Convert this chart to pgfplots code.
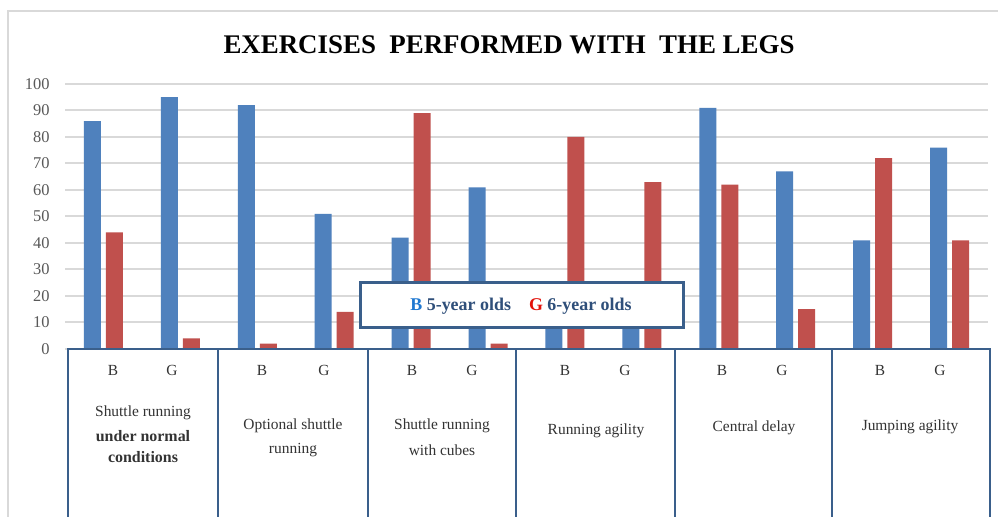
\documentclass[border=0pt]{standalone}
\usepackage{fontspec}
\setmainfont{Liberation Serif}
\usepackage{pgfplots}
\pgfplotsset{compat=1.18}
\definecolor{xblue}{HTML}{4F81BD}
\definecolor{xred}{HTML}{C0504D}
\definecolor{boxc}{HTML}{3A5F8B}
\definecolor{gridc}{HTML}{D9D9D9}
\definecolor{tickc}{HTML}{595959}
\definecolor{legtxt}{HTML}{2F4F7A}
\definecolor{legB}{HTML}{1F78D1}
\definecolor{legG}{HTML}{E3120B}
\definecolor{cattxt}{HTML}{333333}
\begin{document}
\begin{tikzpicture}[x=1bp,y=1bp]
\path[use as bounding box] (0,0) rectangle (998,517);
\fill[white] (0,0) rectangle (998,517);
\draw[gridc, line width=1.2bp] (8,-5) -- (8,506) -- (1005,506);
\begin{axis}[at={(65bp,168bp)}, anchor=south west, scale only axis,
  width=923bp, height=265bp, xmin=-0.5, xmax=11.5, ymin=0, ymax=100,
  ytick={0,10,...,100}, xtick=\empty, ymajorgrids,
  grid style={gridc, line width=2bp}, axis line style={draw=none},
  major tick length=0pt, ybar=5bp, bar width=17bp,
  yticklabel style={font=\fontsize{16.5}{16.5}\selectfont, text=tickc, xshift=-12bp},
  /pgf/number format/assume math mode=true, clip=false]
\addplot[fill=xblue, draw=none] coordinates {(0,86) (1,95) (2,92) (3,51) (4,42) (5,61) (6,20) (7,16) (8,91) (9,67) (10,41) (11,76)};
\addplot[fill=xred, draw=none] coordinates {(0,44) (1,4) (2,2) (3,14) (4,89) (5,2) (6,80) (7,63) (8,62) (9,15) (10,72) (11,41)};
\end{axis}
\begin{scope}[boxc, line width=2.5bp]
\draw (68,168) rectangle (218,-10);
\draw (218,168) rectangle (368,-10);
\draw (368,168) rectangle (516,-10);
\draw (516,168) rectangle (675,-10);
\draw (675,168) rectangle (832,-10);
\draw (832,168) rectangle (990,-10);
\end{scope}
\begin{scope}[every node/.style={font=\fontsize{15.5}{15.5}\selectfont, text=cattxt, align=center}]
\foreach \xb/\xg in {113/172, 262/324, 412/472, 565/625, 722/782, 880/940} {
  \node at (\xb,147) {B};
  \node at (\xg,147) {G};
}
\node at (143,104) {Shuttle running};
\node[font=\bfseries\fontsize{16}{16}\selectfont] at (143,81) {under normal};
\node[font=\bfseries\fontsize{16}{16}\selectfont] at (143,60) {conditions};
\node at (293,91) {Optional shuttle};
\node at (293,67) {running};
\node at (442,91) {Shuttle running};
\node at (442,67) {with cubes};
\node at (596,86) {Running agility};
\node at (754,89) {Central delay};
\node at (910,90) {Jumping agility};
\end{scope}
\draw[boxc, line width=3bp, fill=white] (360,234) rectangle (683,189);
\node[font=\bfseries\fontsize{18}{18}\selectfont] at (521,211) {\textcolor{legB}{B} \textcolor{legtxt}{5-year olds}\hspace{18bp}\textcolor{legG}{G} \textcolor{legtxt}{6-year olds}};
\node[font=\bfseries\fontsize{27}{27}\selectfont] at (509,472) {EXERCISES\ \ PERFORMED WITH\ \ THE LEGS};
\end{tikzpicture}
\end{document}
